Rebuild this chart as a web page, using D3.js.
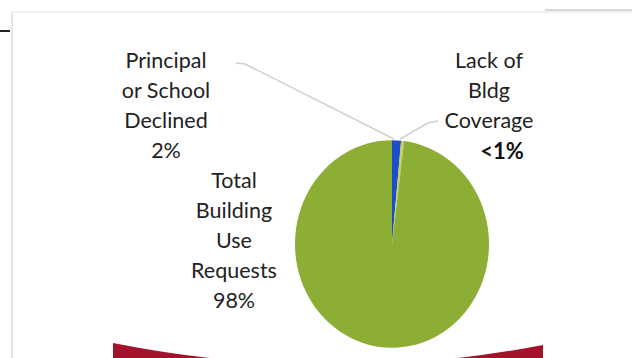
<!DOCTYPE html>
<html><head><meta charset="utf-8">
<script src="https://cdn.jsdelivr.net/npm/d3@7"></script>
<style>html,body{margin:0;padding:0;background:#fff;}svg{display:block;}</style>
</head><body>
<script>
const categories = ["Principal or School Declined", "Lack of Bldg Coverage", "Total Building Use Requests"];
const values = [1.5, 0.5, 98];
const colors = ["#1b4fc9", "#c9cf5a", "#8cae35"];
const labelLines = [
  ["Principal", "or School", "Declined", "2%"],
  ["Lack of", "Bldg", "Coverage", "<1%"],
  ["Total", "Building", "Use", "Requests", "98%"]
];

const W = 632, H = 358;
const svg = d3.select("body").append("svg").attr("width", W).attr("height", H);

// frame
svg.append("line").attr("x1", 12).attr("y1", 12).attr("x2", 12).attr("y2", H).attr("stroke", "#e6e6e6").attr("stroke-width", 2);
svg.append("line").attr("x1", 12).attr("y1", 12).attr("x2", W).attr("y2", 12).attr("stroke", "#f0f0f0").attr("stroke-width", 2);
svg.append("line").attr("x1", 545).attr("y1", 10).attr("x2", W).attr("y2", 10).attr("stroke", "#d8d8d8").attr("stroke-width", 2);
svg.append("line").attr("x1", 0).attr("y1", 31).attr("x2", 10).attr("y2", 31).attr("stroke", "#222").attr("stroke-width", 2);

// decorative red swoosh
svg.append("path").attr("d", "M113,343 Q330,386 543,345 L543,400 L113,400 Z").attr("fill", "#a3132b");

const cx = 392, cy = 244, r = 97;
const pie = d3.pie().sort(null).value(d => d)(values);
const arc = d3.arc().innerRadius(0).outerRadius(r);
const g = svg.append("g").attr("transform", `translate(${cx},${cy}) scale(1,1.07)`);
g.selectAll("path").data(pie).join("path").attr("d", arc).attr("fill", (d, i) => colors[i]);

// leader lines
const lead = svg.append("g").attr("fill", "none").attr("stroke", "#cfcfcf").attr("stroke-width", 1.5);
lead.append("polyline").attr("points", "236,63 245,64 394,139");
lead.append("polyline").attr("points", "438,121 428,123 400,139");

const font = "Lato, 'Open Sans', sans-serif";
function label(lines, x, y0, dy) {
  const t = svg.append("g").attr("font-family", font).attr("font-size", 21.5).attr("fill", "#222").attr("text-anchor", "middle");
  lines.forEach((s, i) => {
    t.append("text").attr("x", x).attr("y", y0 + i * dy).text(s);
  });
}
label(labelLines[0], 166, 68, 30);
label(labelLines[1].slice(0, 3), 489, 68, 30);
svg.append("text").attr("x", 502).attr("y", 159).attr("text-anchor", "middle").attr("font-family", font)
  .attr("font-size", 22).attr("font-weight", "bold").attr("fill", "#111").text(labelLines[1][3]);
label(labelLines[2], 234, 188, 30);
</script>
</body></html>
